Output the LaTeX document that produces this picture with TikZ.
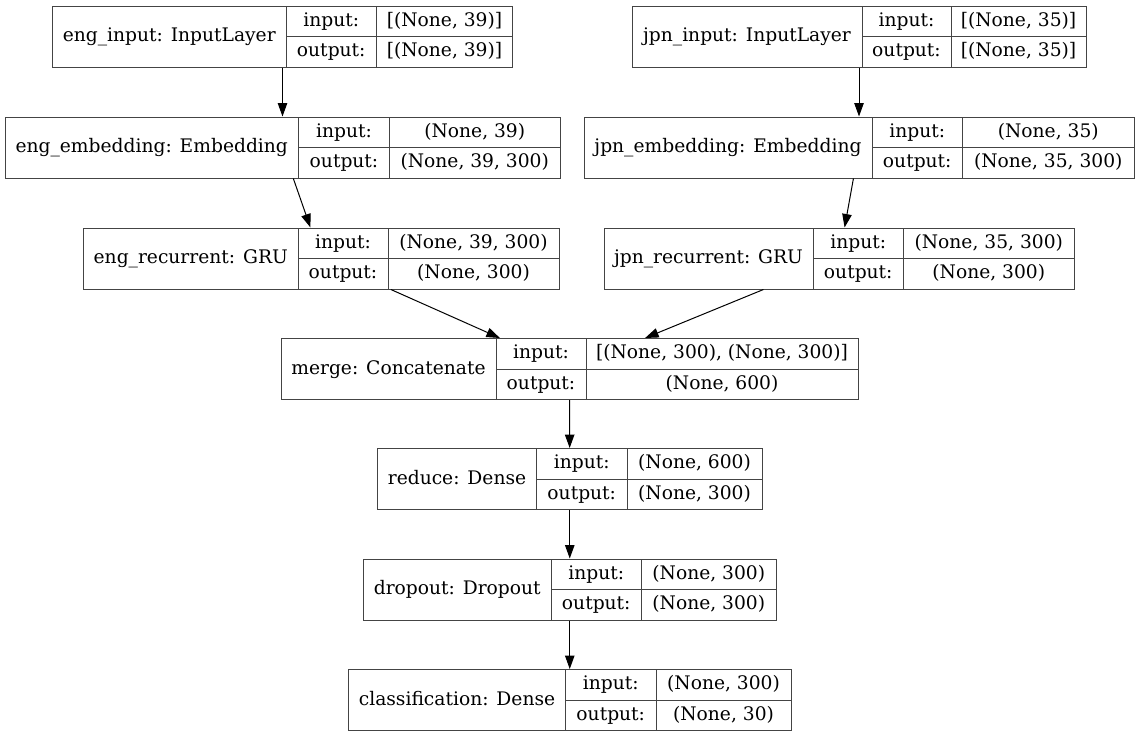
\documentclass[tikz,border=0pt]{standalone}
\usepackage{fontspec}
\setmainfont{DejaVu Serif}
\usetikzlibrary{arrows.meta}

\definecolor{edgegray}{HTML}{444444}

\tikzset{
  layer/.style={draw=edgegray, line width=1pt, inner sep=0, minimum height=61pt},
  split/.style={draw=edgegray, line width=1pt},
  cell/.style={inner sep=0, text height=13.6pt, text depth=3.6pt},
  flow/.style={-{Triangle[length=13.5pt,width=9.5pt]}, line width=1pt}
}

\newcommand{\layerbox}[9]{%
  \pgfmathsetmacro{\boxw}{#5-#2}
  \node[layer, minimum width=\boxw pt] (#1) at ({(#2+#5)/2},{#6+30.5}) {};
  \draw[split] (#3,#6) -- (#3,{#6+61});
  \draw[split] (#4,#6) -- (#4,{#6+61});
  \draw[split] (#3,{#6+30.5}) -- (#5,{#6+30.5});
  \node[cell] (#1-name) at ({(#2+#3)/2},{#6+30.5}) {#7};
  \node[cell] (#1-inl) at ({(#3+#4)/2},{#6+15.25}) {input:};
  \node[cell] (#1-outl) at ({(#3+#4)/2},{#6+45.75}) {output:};
  \node[cell] (#1-in) at ({(#4+#5)/2},{#6+15.25}) {#8};
  \node[cell] (#1-out) at ({(#4+#5)/2},{#6+45.75}) {#9};
}

\begin{document}
\begin{tikzpicture}[x=1pt, y=-1pt, font=\fontsize{18.67}{22}\selectfont]
    \useasboundingbox (0,0) rectangle (1139,737);

    \layerbox{E1}{52.5}{286}{376.5}{512.5}{6}{eng\_input: InputLayer}{[(None, 39)]}{[(None, 39)]}
    \layerbox{J1}{632}{862}{951}{1086}{6}{jpn\_input: InputLayer}{[(None, 35)]}{[(None, 35)]}
    \layerbox{E2}{5}{298.5}{389.5}{560}{117}{eng\_embedding: Embedding}{(None, 39)}{(None, 39, 300)}
    \layerbox{J2}{584}{872}{962.5}{1134}{117}{jpn\_embedding: Embedding}{(None, 35)}{(None, 35, 300)}
    \layerbox{E3}{83.5}{298}{388}{559}{228}{eng\_recurrent: GRU}{(None, 39, 300)}{(None, 300)}
    \layerbox{J3}{604}{813}{903.5}{1074}{228}{jpn\_recurrent: GRU}{(None, 35, 300)}{(None, 300)}
    \layerbox{M}{281}{496}{586}{858}{338.5}{merge: Concatenate}{[(None, 300), (None, 300)]}{(None, 600)}
    \layerbox{R}{377.5}{536.5}{627}{762}{448.5}{reduce: Dense}{(None, 600)}{(None, 300)}
    \layerbox{D}{363.5}{551}{641.5}{776}{559}{dropout: Dropout}{(None, 300)}{(None, 300)}
    \layerbox{C}{348.5}{565.5}{656}{791}{669.5}{classification: Dense}{(None, 300)}{(None, 30)}

    \draw[flow] (E1) -- (E2);
    \draw[flow] (J1) -- (J2);
    \draw[flow] (E2) -- (E3);
    \draw[flow] (J2) -- (J3);
    \draw[flow] (E3) -- (M);
    \draw[flow] (J3) -- (M);
    \draw[flow] (M) -- (R);
    \draw[flow] (R) -- (D);
    \draw[flow] (D) -- (C);
\end{tikzpicture}
\end{document}
